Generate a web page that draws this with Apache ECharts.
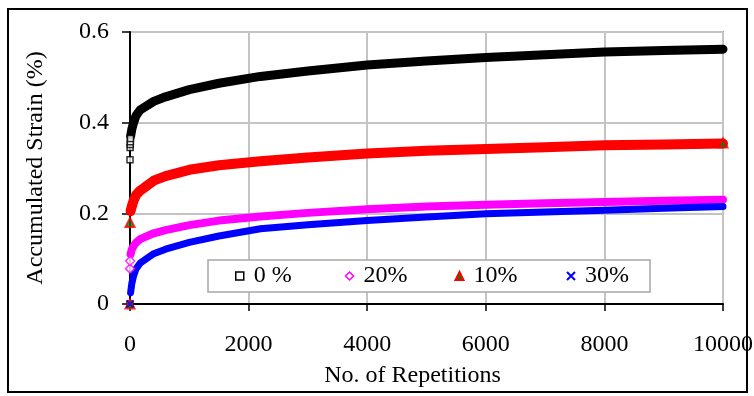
<!DOCTYPE html>
<html>
<head>
<meta charset="utf-8">
<script src="https://cdn.jsdelivr.net/npm/echarts@6/dist/echarts.min.js"></script>
<style>
  html, body { margin: 0; padding: 0; background: #fff; }
  #chart { width: 754px; height: 396px; }
</style>
</head>
<body>
<div id="chart"></div>
<script>
// 读图得到的数据
var reps = [10, 30, 60, 100, 170, 400, 600, 1000, 1500, 2200, 3000, 4000, 5000, 6000, 7000, 8000, 9000, 10000];
var strain0 = [0.370, 0.385, 0.400, 0.415, 0.428, 0.447, 0.457, 0.473, 0.487, 0.502, 0.514, 0.527, 0.536, 0.544, 0.550, 0.556, 0.559, 0.562];
var strain20 = [0.110, 0.120, 0.128, 0.135, 0.143, 0.156, 0.163, 0.174, 0.184, 0.193, 0.201, 0.209, 0.215, 0.219, 0.222, 0.225, 0.228, 0.230];
var strain10 = [0.205, 0.215, 0.228, 0.240, 0.250, 0.272, 0.282, 0.296, 0.306, 0.315, 0.323, 0.332, 0.338, 0.342, 0.346, 0.350, 0.352, 0.354];
var strain30 = [0.025, 0.045, 0.062, 0.077, 0.090, 0.111, 0.121, 0.136, 0.150, 0.166, 0.175, 0.184, 0.192, 0.199, 0.203, 0.207, 0.211, 0.215];

// 起点附近单独可见的标记点
var start0 = [[0, 0], [0, 0.318], [2, 0.345], [4, 0.352], [6, 0.358], [8, 0.365]];
var start20 = [[0, 0.078], [2, 0.095]];
var start10 = [[0, 0], [0, 0.18], [10000, 0.355]];
var start30 = [[0, 0]];

var names = ['0 %', '20%', '10%', '30%'];
var xTicks = ['0', '2000', '4000', '6000', '8000', '10000'];
var yTicks = ['0', '0.2', '0.4', '0.6'];

var font = 'Liberation Serif';

function pairs(xs, ys) {
  return xs.map(function (x, i) { return [x, ys[i]]; });
}

var chart = echarts.init(document.getElementById('chart'));
chart.setOption({
  animation: false,
  textStyle: { fontFamily: font },
  graphic: [{
    type: 'rect',
    shape: { x: 8, y: 9, width: 739, height: 383 },
    style: { fill: 'none', stroke: '#000', lineWidth: 2 },
    z: 0
  }],
  grid: {
    left: 130,
    right: 31,
    top: 32,
    bottom: 92,
    show: true,
    borderColor: '#a6a6a6',
    borderWidth: 2,
    outerBoundsMode: 'none'
  },
  legend: {
    left: 208,
    top: 260,
    orient: 'horizontal',
    padding: [4, 21, 4, 27],
    itemWidth: 8,
    itemHeight: 8,
    itemGap: 47,
    borderColor: '#a6a6a6',
    borderWidth: 1.5,
    backgroundColor: '#fff',
    textStyle: {
      fontFamily: font,
      fontSize: 24,
      color: '#000',
      width: 44,
      lineHeight: 24,
      padding: [0, 0, 0, 5]
    },
    data: [
      { name: names[0], icon: 'rect', itemStyle: { color: '#fff', borderColor: '#000', borderWidth: 1.5 } },
      { name: names[1], icon: 'diamond', itemStyle: { color: '#fff', borderColor: '#ff00ff', borderWidth: 1.5 } },
      { name: names[2], icon: 'triangle', itemStyle: { color: '#008000', borderColor: '#ff0000', borderWidth: 2 } },
      { name: names[3], icon: 'path://M0,0L10,10M10,0L0,10', itemStyle: { color: 'none', borderColor: '#0000ff', borderWidth: 2 } }
    ]
  },
  xAxis: {
    type: 'value',
    min: 0,
    max: 10000,
    interval: 2000,
    name: 'No. of Repetitions',
    nameLocation: 'middle',
    nameGap: 60,
    nameTextStyle: { fontFamily: font, fontSize: 24, color: '#000', padding: [0, 28, 0, 0] },
    axisLine: { onZero: false, lineStyle: { color: '#000', width: 2 } },
    axisTick: { show: true, inside: false, length: 7, lineStyle: { color: '#000', width: 1.5 } },
    axisLabel: {
      fontFamily: font, fontSize: 24, color: '#000', margin: 29,
      formatter: function (v) { return xTicks[Math.round(v / 2000)]; }
    },
    splitLine: { show: true, lineStyle: { color: '#c4c4c4', width: 2 } }
  },
  yAxis: {
    type: 'value',
    min: 0,
    max: 0.6,
    interval: 0.2,
    name: 'Accumulated Strain (%)',
    nameLocation: 'middle',
    nameGap: 82,
    nameTextStyle: { fontFamily: font, fontSize: 24, color: '#000' },
    axisLine: { show: true, onZero: false, lineStyle: { color: '#000', width: 2 } },
    axisTick: { show: true, inside: false, length: 8, lineStyle: { color: '#000', width: 1.5 } },
    axisLabel: {
      fontFamily: font, fontSize: 24, color: '#000', margin: 21,
      formatter: function (v) { return yTicks[Math.round(v / 0.2)]; }
    },
    splitLine: { show: true, lineStyle: { color: '#c4c4c4', width: 2 } }
  },
  series: [
    {
      name: names[0], type: 'line', data: pairs(reps, strain0),
      showSymbol: false, symbol: 'none',
      lineStyle: { color: '#000', width: 9, cap: 'round', join: 'round' }, z: 3
    },
    {
      name: names[0], type: 'scatter', data: start0,
      symbol: 'rect', symbolSize: 6,
      itemStyle: { color: '#fff', borderColor: '#000', borderWidth: 1.5 }, z: 4
    },
    {
      name: names[1], type: 'line', data: pairs(reps, strain20),
      showSymbol: false, symbol: 'none',
      lineStyle: { color: '#ff00ff', width: 8, cap: 'round', join: 'round' }, z: 3
    },
    {
      name: names[1], type: 'scatter', data: start20,
      symbol: 'diamond', symbolSize: 9,
      itemStyle: { color: '#fff', borderColor: '#ff00ff', borderWidth: 1.5 }, z: 4
    },
    {
      name: names[2], type: 'line', data: pairs(reps, strain10),
      showSymbol: false, symbol: 'none',
      lineStyle: { color: '#ff0000', width: 10, cap: 'round', join: 'round' }, z: 3
    },
    {
      name: names[2], type: 'scatter', data: start10,
      symbol: 'triangle', symbolSize: 9,
      itemStyle: { color: '#008000', borderColor: '#ff0000', borderWidth: 2 }, z: 4
    },
    {
      name: names[3], type: 'line', data: pairs(reps, strain30),
      showSymbol: false, symbol: 'none',
      lineStyle: { color: '#0000ff', width: 7, cap: 'round', join: 'round' }, z: 3
    },
    {
      name: names[3], type: 'scatter', data: start30,
      symbol: 'path://M0,0L10,10M10,0L0,10', symbolSize: 7,
      itemStyle: { color: 'none', borderColor: '#0000ff', borderWidth: 2 }, z: 4
    }
  ]
});
</script>
</body>
</html>
